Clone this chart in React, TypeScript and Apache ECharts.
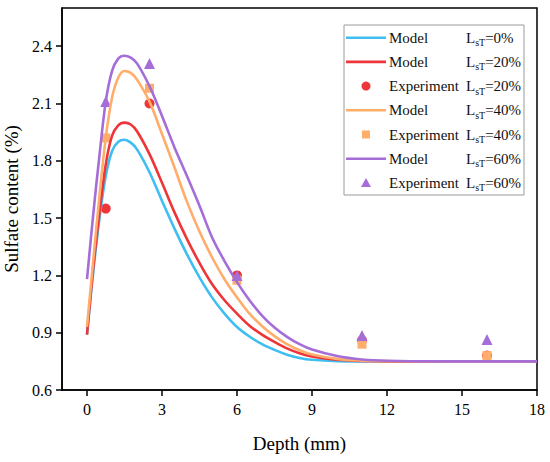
import React, { useEffect, useRef } from 'react';
import * as echarts from 'echarts';

// Depth sample positions (mm) for the model curves
const depth = [0, 0.25, 0.5, 0.75, 1, 1.25, 1.5, 1.75, 2, 2.5, 3, 3.5, 4, 4.5, 5, 5.5, 6, 6.5, 7, 7.5, 8, 8.5, 9, 10, 11, 12, 14, 16, 18];

// Model curves (sulfate content %)
const model0 = [0.89, 1.22, 1.5, 1.72, 1.85, 1.9, 1.91, 1.895, 1.86, 1.74, 1.59, 1.445, 1.31, 1.19, 1.085, 1.0, 0.93, 0.88, 0.84, 0.81, 0.785, 0.768, 0.758, 0.751, 0.75, 0.75, 0.75, 0.75, 0.75];
const model20 = [0.89, 1.24, 1.53, 1.78, 1.93, 1.985, 2.0, 1.99, 1.955, 1.835, 1.685, 1.53, 1.39, 1.265, 1.155, 1.07, 1.0, 0.937, 0.89, 0.852, 0.818, 0.792, 0.775, 0.758, 0.752, 0.75, 0.75, 0.75, 0.75];
const model40 = [0.93, 1.28, 1.62, 1.92, 2.13, 2.235, 2.27, 2.26, 2.225, 2.11, 1.94, 1.765, 1.585, 1.43, 1.295, 1.18, 1.085, 1.0, 0.935, 0.882, 0.84, 0.808, 0.786, 0.763, 0.754, 0.751, 0.75, 0.75, 0.75];
const model60 = [1.18, 1.52, 1.83, 2.11, 2.27, 2.335, 2.35, 2.34, 2.31, 2.19, 2.035, 1.87, 1.72, 1.565, 1.4, 1.275, 1.165, 1.07, 0.99, 0.927, 0.878, 0.84, 0.812, 0.778, 0.76, 0.753, 0.75, 0.75, 0.75];

// Experimental data
const expDepth = [0.75, 2.5, 6, 11, 16];
const exp20 = [1.55, 2.1, 1.2, 0.86, 0.78];
const exp40 = [1.92, 2.18, 1.175, 0.84, 0.78];
const exp60 = [2.11, 2.31, 1.2, 0.885, 0.865];

// Axis ticks
const xTicks = [0, 3, 6, 9, 12, 15, 18];
const yTicks = [0.6, 0.9, 1.2, 1.5, 1.8, 2.1, 2.4];

const legendRows = [
  { kind: 'line', name: 'Model', pct: '0%' },
  { kind: 'line', name: 'Model', pct: '20%' },
  { kind: 'circle', name: 'Experiment', pct: '20%' },
  { kind: 'line', name: 'Model', pct: '40%' },
  { kind: 'rect', name: 'Experiment', pct: '40%' },
  { kind: 'line', name: 'Model', pct: '60%' },
  { kind: 'triangle', name: 'Experiment', pct: '60%' },
];

const C_BLUE = '#3FBEF2';
const C_RED = '#EE3538';
const C_ORANGE = '#FFAD6B';
const C_PURPLE = '#A56DD8';
const legendColors = [C_BLUE, C_RED, C_RED, C_ORANGE, C_ORANGE, C_PURPLE, C_PURPLE];

const FONT = 'Liberation Serif';

function pairs(xs: number[], ys: number[]) {
  return xs.map((x, i) => [x, ys[i]]);
}

export default function App() {
  const ref = useRef<HTMLDivElement>(null);
  useEffect(() => {
    if (!ref.current) return;
    const chart = echarts.init(ref.current, undefined, { renderer: 'svg' });

    const lineSeries = (data: number[], color: string) => ({
      type: 'line',
      data: pairs(depth, data),
      smooth: 0.35,
      symbol: 'none',
      lineStyle: { color, width: 2.6 },
      itemStyle: { color },
    });
    const scatterSeries = (data: number[], color: string, symbol: string, size: number) => ({
      type: 'scatter',
      data: pairs(expDepth, data),
      symbol,
      symbolSize: size,
      itemStyle: { color, opacity: 1 },
    });

    const lx = 344;
    const ly = 25;
    const rowH = 24.2;
    const row0 = 37.7;
    const legendEls: any[] = [
      {
        type: 'rect',
        shape: { x: lx, y: ly, width: 180, height: 170 },
        style: { fill: '#fff', stroke: '#9a9a9a', lineWidth: 1 },
      },
    ];
    legendRows.forEach((r, i) => {
      const cy = row0 + i * rowH;
      const color = legendColors[i];
      if (r.kind === 'line') {
        legendEls.push({ type: 'line', shape: { x1: 346, y1: cy, x2: 386, y2: cy }, style: { stroke: color, lineWidth: 2.6 } });
      } else if (r.kind === 'circle') {
        legendEls.push({ type: 'circle', shape: { cx: 366, cy, r: 4.5 }, style: { fill: color } });
      } else if (r.kind === 'rect') {
        legendEls.push({ type: 'rect', shape: { x: 362, y: cy - 4, width: 8, height: 8 }, style: { fill: color } });
      } else {
        legendEls.push({ type: 'polygon', shape: { points: [[366, cy - 5], [371, cy + 4], [361, cy + 4]] }, style: { fill: color } });
      }
      legendEls.push({
        type: 'text',
        x: 389,
        y: cy,
        style: { text: r.name, font: `15px "${FONT}"`, fill: '#111', textVerticalAlign: 'middle' },
      });
      legendEls.push({
        type: 'text',
        x: 466,
        y: cy,
        style: {
          text: `{m|L}{s|sT}{m|=${r.pct}}`,
          textVerticalAlign: 'middle',
          rich: {
            m: { fontFamily: FONT, fontSize: 15, lineHeight: 20, fill: '#111', color: '#111' },
            s: { fontFamily: FONT, fontSize: 10, lineHeight: 10, verticalAlign: 'bottom', color: '#111', fill: '#111' },
          },
        },
      });
    });

    chart.setOption({
      animation: false,
      backgroundColor: '#fff',
      grid: {
        left: 62,
        right: 13,
        top: 8,
        bottom: 72,
        show: true,
        borderColor: '#000',
        borderWidth: 1.5,
        backgroundColor: 'transparent',
        containLabel: false,
        outerBoundsMode: 'none',
      },
      xAxis: {
        type: 'value',
        min: -1,
        max: 18,
        name: 'Depth (mm)',
        nameLocation: 'middle',
        nameGap: 44,
        nameTextStyle: { fontFamily: FONT, fontSize: 19, color: '#000' },
        axisLine: { onZero: false, lineStyle: { color: '#000', width: 1.5 } },
        axisTick: { customValues: xTicks, length: 6, lineStyle: { color: '#000', width: 1.5 } },
        axisLabel: { customValues: xTicks, margin: 11, fontFamily: FONT, fontSize: 16, color: '#000' },
        splitLine: { show: false },
      },
      yAxis: {
        type: 'value',
        min: 0.6,
        max: 2.6,
        name: 'Sulfate content (%)',
        nameLocation: 'middle',
        nameGap: 40,
        nameTextStyle: { fontFamily: FONT, fontSize: 19, color: '#000' },
        axisLine: { onZero: false, lineStyle: { color: '#000', width: 1.5 } },
        axisTick: { customValues: yTicks, length: 6, lineStyle: { color: '#000', width: 1.5 } },
        axisLabel: {
          customValues: yTicks,
          margin: 10,
          fontFamily: FONT,
          fontSize: 16,
          color: '#000',
          formatter: (v: number) => v.toFixed(1),
        },
        splitLine: { show: false },
      },
      series: [
        lineSeries(model0, C_BLUE),
        lineSeries(model20, C_RED),
        lineSeries(model40, C_ORANGE),
        lineSeries(model60, C_PURPLE),
        scatterSeries(exp20, C_RED, 'circle', 10),
        scatterSeries(exp40, C_ORANGE, 'rect', 9),
        scatterSeries(exp60, C_PURPLE, 'triangle', 11),
      ],
      graphic: { elements: legendEls },
    });
    return () => chart.dispose();
  }, []);

  return <div ref={ref} style={{ position: 'absolute', left: 0, top: 0, width: 550, height: 462 }} />;
}
